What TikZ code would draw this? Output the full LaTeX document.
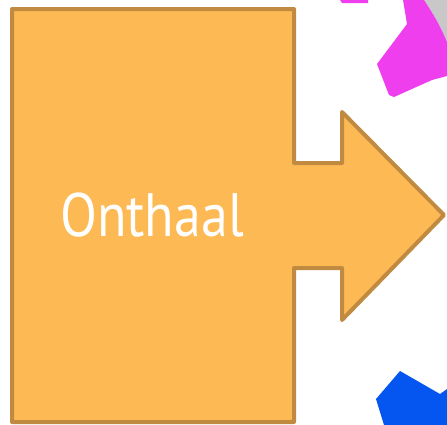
\documentclass[tikz,border=0pt]{standalone}
\usepackage{fontspec}
\setmainfont{PT Sans}
\definecolor{arrowfill}{RGB}{253,185,84}
\definecolor{arrowline}{RGB}{192,138,64}
\definecolor{pinkshape}{RGB}{238,62,238}
\definecolor{blueshape}{RGB}{5,85,240}
\definecolor{grayshape}{RGB}{200,200,200}
\tikzset{
  bigarrow/.style={fill=arrowfill, draw=arrowline, line width=3pt, line join=round},
  labeltext/.style={text=white, inner sep=0pt, anchor=base, font=\fontsize{46}{50}\selectfont, xscale=0.88},
}
\begin{document}
\begin{tikzpicture}[x=0.75pt,y=-0.75pt]
\useasboundingbox (0,0) rectangle (447,425);
\fill[white] (0,0) rectangle (447,425);
% background fragments
\fill[grayshape] (424,0) -- (447,0) -- (447,42) .. controls (440,25) and (432,12) .. (424,0) -- cycle;
\fill[pinkshape] (340,0) -- (368,0) -- (368,3) -- (342,3) -- cycle;
\fill[pinkshape] (403,0) -- (424,0) .. controls (432,12) and (440,25) .. (447,42) -- (447,76) -- (432,80) -- (394,97) -- (389,95) -- (377,64) -- (407,24) -- cycle;
\fill[blueshape] (400,371) -- (440,394) -- (447,389) -- (447,425) -- (384,425) -- (376,399) -- cycle;
% main arrow
\draw[bigarrow] (12,9) -- (294,9) -- (294,163) -- (342,163) -- (342,112) -- (444,215) -- (342,320) -- (342,268) -- (294,268) -- (294,422) -- (12,422) -- cycle;
\node[labeltext] (label) at (152,236) {Onthaal};
\end{tikzpicture}
\end{document}
